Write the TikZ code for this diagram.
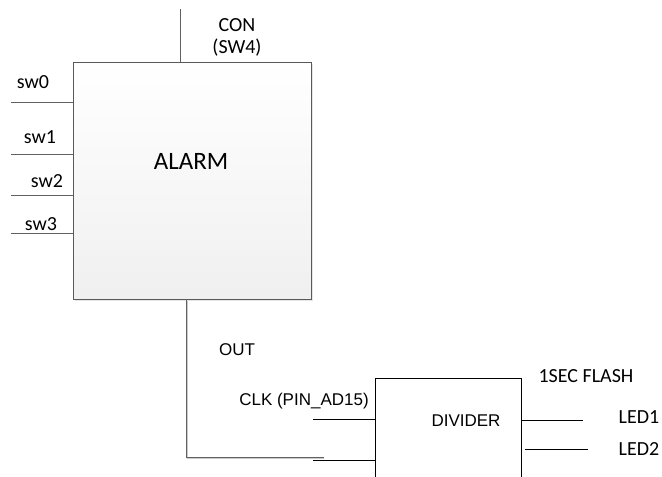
\documentclass[tikz,border=0pt]{standalone}
\usepackage{fontspec}
\setmainfont{Carlito}
\newfontfamily\arialf{Liberation Sans}
\usetikzlibrary{shadows}
\begin{document}
\begin{tikzpicture}[x=1pt,y=-1pt,
  wire/.style={draw=black!62, line width=0.9pt},
  bwire/.style={draw=black, line width=0.8pt},
  cal/.style={font=\fontsize{20}{24}\selectfont, inner sep=0pt, anchor=base},
  big/.style={font=\fontsize{25}{30}\selectfont, inner sep=0pt, anchor=base},
  ari/.style={font=\arialf\fontsize{17}{20}\selectfont, inner sep=0pt, anchor=base},
]
\useasboundingbox (0,0) rectangle (662,477);

% ALARM block
\node[draw=black!65, line width=0.9pt, top color=white, bottom color=black!6,
      minimum width=238pt, minimum height=237pt, inner sep=0pt,
      drop shadow={shadow xshift=2pt, shadow yshift=-2pt, opacity=0.2}]
      (alarm) at (192,180.5) {};
\node[big] (alarmtxt) at (191,169) {ALARM};

% CON input
\coordinate (conend) at (180,9);
\draw[wire] (conend) -- (conend |- alarm.north);
\node[cal] (con1) at (237,31) {CON};
\node[cal] (con2) at (237,53) {(SW4)};

% switch inputs
\coordinate (s0) at (11,102);
\coordinate (s1) at (11,154);
\coordinate (s2) at (11,195);
\coordinate (s3) at (11,233);
\foreach \s in {s0,s1,s2,s3}{\draw[wire] (\s) -- (\s -| alarm.west);}
\node[cal] (sw0) at (33,88) {sw0};
\node[cal] (sw1) at (40,143) {sw1};
\node[cal] (sw2) at (47,187) {sw2};
\node[cal] (sw3) at (41,230) {sw3};

% DIVIDER block
\node[bwire, minimum width=146pt, minimum height=140pt, inner sep=0pt,
      anchor=north west] (div) at (375,378) {};
\node[ari] (divtxt) at (466,426) {DIVIDER};

% OUT connection
\coordinate (outc) at (186,457);
\coordinate (outend) at (324,457);
\draw[draw=black!20, line width=0.9pt] ([shift={(1.5,1.5)}]alarm.south -| outc) -- ([shift={(1.5,1.5)}]outc) -- ([shift={(0,1.5)}]outend);
\draw[wire] (alarm.south -| outc) -- (outc) -- (outend);
\node[ari] (outtxt) at (237,355) {OUT};

% divider inputs
\coordinate (clkin) at (313,419);
\coordinate (in2) at (313,460);
\draw[bwire] (clkin) -- (clkin -| div.west);
\draw[bwire] (in2) -- (in2 -| div.west);
\node[ari] (clktxt) at (304,405) {CLK (PIN\_AD15)};

% outputs
\coordinate (led1e) at (583,420);
\coordinate (led2s) at (525,449);
\coordinate (led2e) at (588,449);
\draw[bwire] (div.east |- led1e) -- (led1e);
\draw[bwire] (led2s) -- (led2e);
\node[cal] (flash) at (586,382) {1SEC FLASH};
\node[cal] (led1) at (639,423) {LED1};
\node[cal] (led2) at (639,455) {LED2};
\end{tikzpicture}
\end{document}
